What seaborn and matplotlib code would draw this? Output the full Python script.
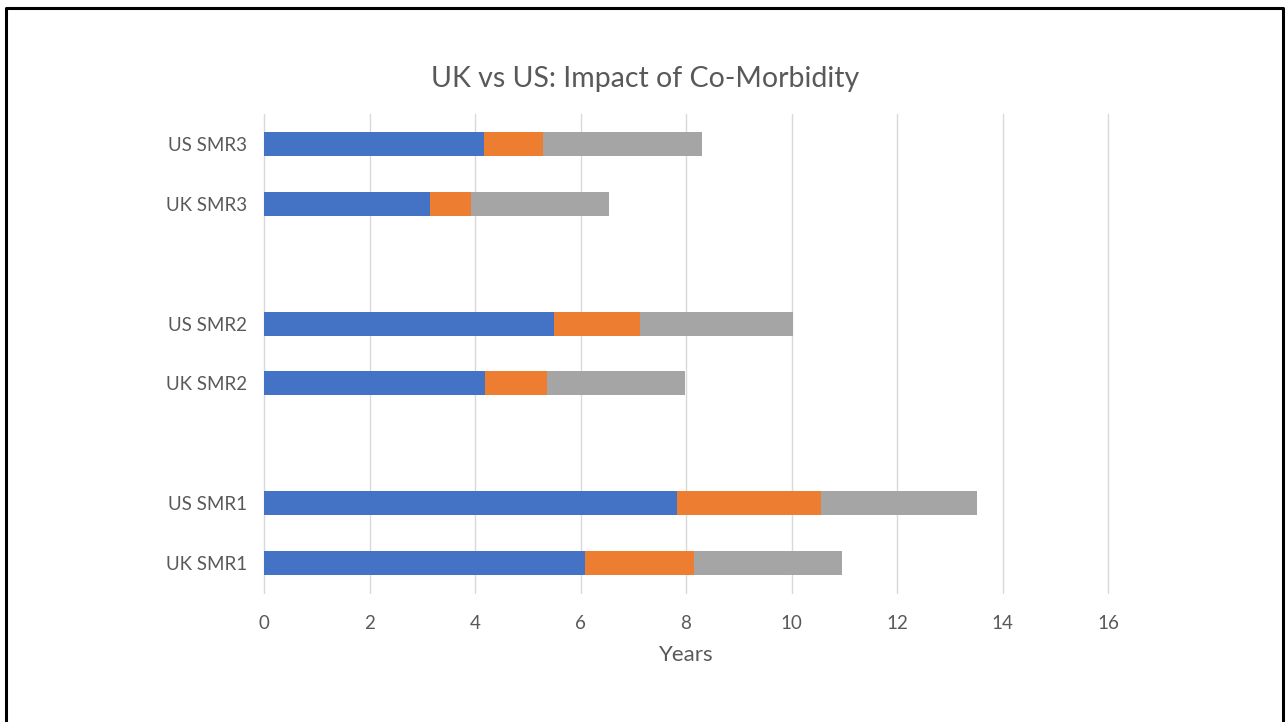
import pandas as pd
import matplotlib
matplotlib.use('Agg')
import matplotlib.pyplot as plt
import seaborn as sns
from matplotlib.lines import Line2D

# Years per segment
groups = ["UK SMR1", "US SMR1", "UK SMR2", "US SMR2", "UK SMR3", "US SMR3"]
part1 = [6.09, 7.82, 4.19, 5.49, 3.15, 4.17]
part2 = [2.06, 2.73, 1.18, 1.63, 0.78, 1.11]
part3 = [2.80, 2.96, 2.61, 2.91, 2.61, 3.02]

# top-to-bottom order, blank slots between the pairs
order = ["US SMR3", "UK SMR3", " ", "US SMR2", "UK SMR2", "  ", "US SMR1", "UK SMR1"]

colors = ["#4472C4", "#ED7D31", "#A5A5A5"]
text_grey = "#595959"


def main():
    sns.set_style("white")
    plt.rcParams['font.family'] = ['Lato', 'DejaVu Sans']

    df = pd.DataFrame({"label": groups, "p1": part1, "p2": part2, "p3": part3})
    df["c1"] = df["p1"]
    df["c2"] = df["p1"] + df["p2"]
    df["c3"] = df["c2"] + df["p3"]

    fig = plt.figure(figsize=(12.87, 7.22), dpi=100)
    ax = fig.add_axes([264 / 1287, 1 - 593 / 722, (1108 - 264) / 1287, (593 - 114) / 722])

    # stacked look: draw cumulative totals back to front
    for col, c in zip(["c3", "c2", "c1"], colors[::-1]):
        sns.barplot(data=df, x=col, y="label", order=order, color=c,
                    width=0.4, linewidth=0, saturation=1, ax=ax, orient="h")

    ax.set_xlim(0, 16)
    ax.set_xticks(range(0, 17, 2))
    ax.grid(axis="x", color="#D9D9D9", linewidth=1)
    for gl in ax.get_xgridlines():
        gl.set_clip_on(False)
    ax.set_axisbelow(True)
    for s in ax.spines.values():
        s.set_visible(False)
    ax.tick_params(axis="both", length=0, labelsize=13.5, colors=text_grey)
    ax.tick_params(axis="y", pad=12)
    ax.tick_params(axis="x", pad=16)
    ax.set_ylabel("")
    ax.set_xlabel("Years", fontsize=16, color=text_grey, labelpad=9)

    fig.text(645 / 1287, 1 - 79 / 722, "UK vs US: Impact of Co-Morbidity",
             ha="center", va="center", fontsize=20.5, color=text_grey)

    # outer frame (no bottom edge visible)
    xl, xr, yt = 6 / 1287, 1283 / 1287, 1 - 8 / 722
    fig.add_artist(Line2D([xl, xl, xr, xr], [-0.01, yt, yt, -0.01],
                          transform=fig.transFigure, color="black", linewidth=2.2))

    fig.savefig("out.png", dpi=100)
    plt.close(fig)


if __name__ == "__main__":
    main()
